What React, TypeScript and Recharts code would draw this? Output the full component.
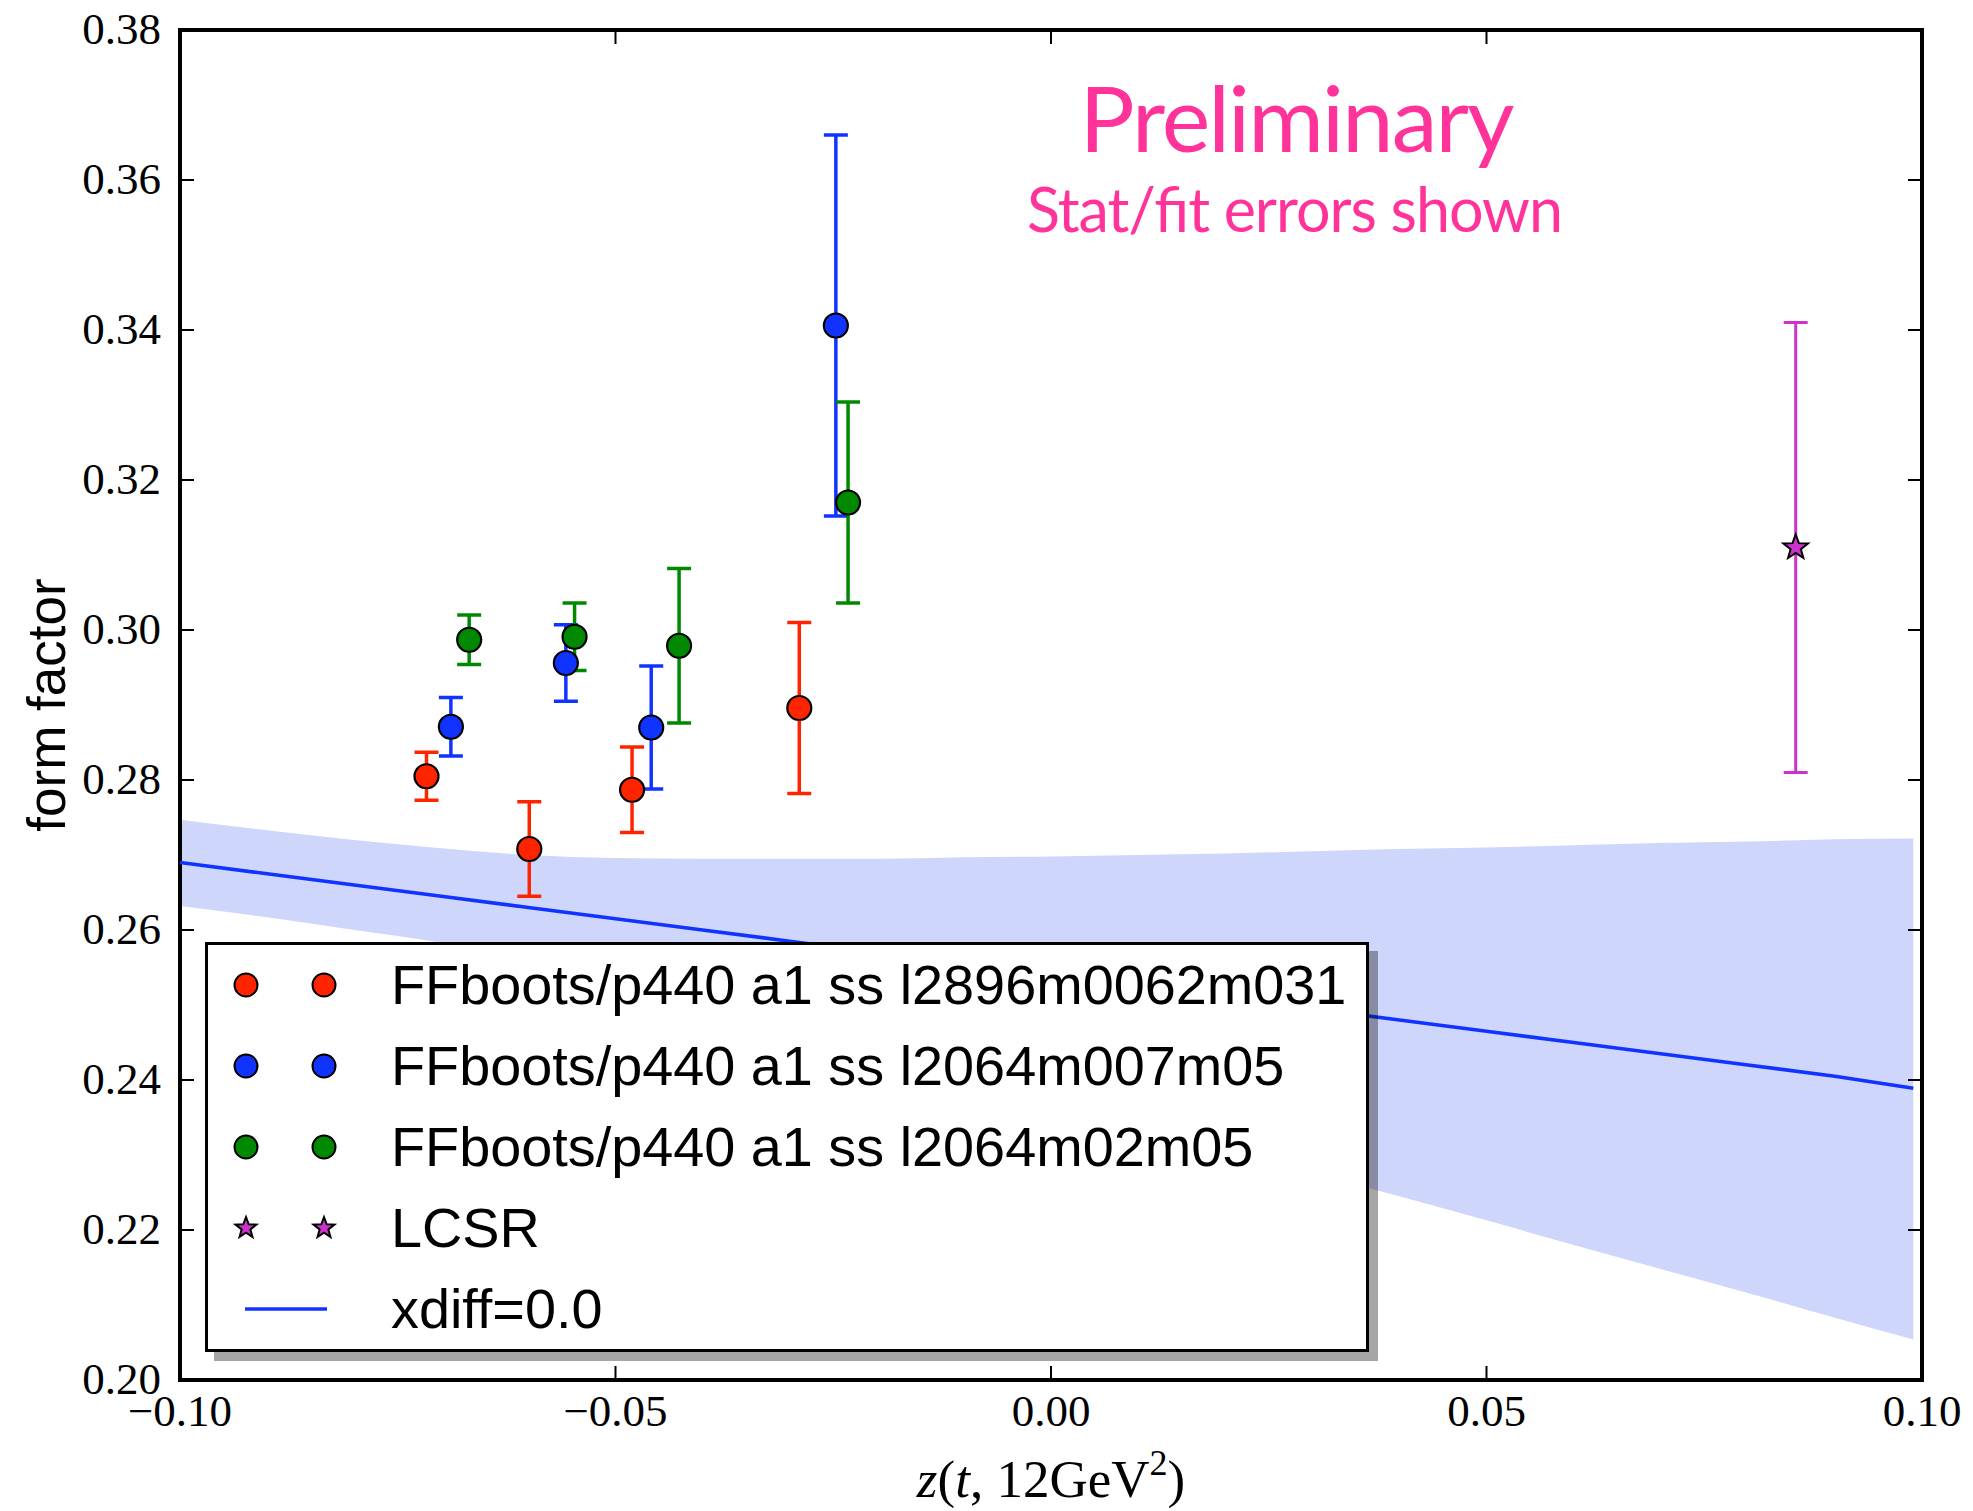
import React from 'react';
import {
  ComposedChart,
  XAxis,
  YAxis,
  Scatter,
  ErrorBar,
  Area,
  Line,
  Legend,
  ReferenceArea,
} from 'recharts';

const CHART_W = 1973;
const CHART_H = 1511;

// ---- lattice ensembles: z value, form factor, symmetric error ----
const l2896X = [-0.0717, -0.0599, -0.0481, -0.0289];
const l2896Y = [0.2805, 0.2708, 0.2787, 0.2896];
const l2896Err = [0.0032, 0.0063, 0.0057, 0.0114];

const l2064m007X = [-0.0689, -0.0557, -0.0459, -0.0247];
const l2064m007Y = [0.2871, 0.2956, 0.287, 0.3406];
const l2064m007Err = [0.0039, 0.0051, 0.0082, 0.0254];

const l2064m02X = [-0.0668, -0.0547, -0.0427, -0.0233];
const l2064m02Y = [0.2987, 0.2991, 0.2979, 0.317];
const l2064m02Err = [0.0033, 0.0045, 0.0103, 0.0134];

// light-cone sum rule estimate
const lcsrX = [0.0855];
const lcsrY = [0.311];
const lcsrErr = [0.03];

// ---- z-expansion fit (xdiff=0.0) with its error band ----
const fitX = [
  -0.1, -0.09, -0.08, -0.07, -0.06, -0.05, -0.04, -0.03, -0.02, -0.01, 0,
  0.01, 0.02, 0.03, 0.04, 0.05, 0.06, 0.07, 0.08, 0.09, 0.099,
];
const fitCentral = [
  0.269, 0.2675, 0.266, 0.2645, 0.263, 0.2615, 0.26, 0.2585, 0.257, 0.2555,
  0.254, 0.2525, 0.251, 0.2495, 0.248, 0.2465, 0.245, 0.2435, 0.242, 0.2405,
  0.2389,
];
const fitUpper = [
  0.2747, 0.2733, 0.272, 0.2709, 0.27, 0.2696, 0.2695, 0.2695, 0.2695,
  0.2697, 0.2698, 0.27, 0.2702, 0.2705, 0.2708, 0.271, 0.2713, 0.2716,
  0.2718, 0.2721, 0.2722,
];
const fitLower = [
  0.2632, 0.2617, 0.26, 0.2583, 0.256, 0.2535, 0.2505, 0.2475, 0.2445,
  0.2413, 0.2382, 0.235, 0.2318, 0.2277, 0.2245, 0.2213, 0.218, 0.2148,
  0.2116, 0.2083, 0.2054,
];

// ---- axis ticks ----
const xTicks = [-0.1, -0.05, 0, 0.05, 0.1];
const xTickLabels = ['\u22120.10', '\u22120.05', '0.00', '0.05', '0.10'];
const yTicks = [0.2, 0.22, 0.24, 0.26, 0.28, 0.3, 0.32, 0.34, 0.36, 0.38];
const yTickLabels = ['0.20', '0.22', '0.24', '0.26', '0.28', '0.30', '0.32', '0.34', '0.36', '0.38'];

const RED = '#FF2400';
const BLUE = '#1133FF';
const GREEN = '#008800';
const MAGENTA = '#CC33CC';
const BAND = '#CFD6FB';
const PINK = '#FF3399';

const SERIF = '"Liberation Serif", "Times New Roman", serif';
const SANS = '"Liberation Sans", Arial, Helvetica, sans-serif';

const toPoints = (xs: number[], ys: number[], es: number[]) =>
  xs.map((x, i) => ({ x, y: ys[i], err: es[i] }));

const red = toPoints(l2896X, l2896Y, l2896Err);
const blue = toPoints(l2064m007X, l2064m007Y, l2064m007Err);
const green = toPoints(l2064m02X, l2064m02Y, l2064m02Err);
const lcsr = toPoints(lcsrX, lcsrY, lcsrErr);

const fitData = fitX.map((x, i) => ({
  x,
  fit: fitCentral[i],
  band: [fitLower[i], fitUpper[i]],
}));

const legendEntries = [
  { kind: 'circle', color: RED, name: 'FFboots/p440 a1 ss l2896m0062m031' },
  { kind: 'circle', color: BLUE, name: 'FFboots/p440 a1 ss l2064m007m05' },
  { kind: 'circle', color: GREEN, name: 'FFboots/p440 a1 ss l2064m02m05' },
  { kind: 'star', color: MAGENTA, name: 'LCSR' },
  { kind: 'line', color: BLUE, name: 'xdiff=0.0' },
];

const TICK_LEN = 14;
const TICK_W = 2;
const BAR_W = 3.5;

function starPoints(cx: number, cy: number, outer: number, inner: number) {
  const pts: string[] = [];
  for (let k = 0; k < 10; k++) {
    const r = k % 2 === 0 ? outer : inner;
    const a = -Math.PI / 2 + (k * Math.PI) / 5;
    pts.push(`${cx + r * Math.cos(a)},${cy + r * Math.sin(a)}`);
  }
  return pts.join(' ');
}

const circleShape = (color: string, r: number) => (p: any) => (
  <circle cx={p.cx} cy={p.cy} r={r} fill={color} stroke="#000" strokeWidth={2.2} />
);

const starShape = (p: any) => (
  <polygon
    points={starPoints(p.cx, p.cy, 13, 5.4)}
    fill={MAGENTA}
    stroke="#000"
    strokeWidth={2}
    strokeLinejoin="miter"
  />
);

// ticks point into the plot on every side
const BottomTick = (p: any) => (
  <g>
    <line x1={p.x} y1={p.y} x2={p.x} y2={p.y - TICK_LEN} stroke="#000" strokeWidth={TICK_W} />
    <text x={p.x} y={p.y + 46} textAnchor="middle" fontFamily={SERIF} fontSize={45} fill="#000">
      {xTickLabels[p.index]}
    </text>
  </g>
);
const TopTick = (p: any) => (
  <line x1={p.x} y1={p.y} x2={p.x} y2={p.y + TICK_LEN} stroke="#000" strokeWidth={TICK_W} />
);
const LeftTick = (p: any) => (
  <g>
    <line x1={p.x} y1={p.y} x2={p.x + TICK_LEN} y2={p.y} stroke="#000" strokeWidth={TICK_W} />
    <text x={p.x - 19} y={p.y + 14} textAnchor="end" fontFamily={SERIF} fontSize={45} fill="#000">
      {yTickLabels[p.index]}
    </text>
  </g>
);
const RightTick = (p: any) => (
  <line x1={p.x} y1={p.y} x2={p.x - TICK_LEN} y2={p.y} stroke="#000" strokeWidth={TICK_W} />
);

const XAxisTitle = (p: any) => {
  const vb = p.viewBox;
  const cx = vb.x + vb.width / 2;
  const base = vb.y + 117;
  return (
    <text x={cx} y={base} textAnchor="middle" fontFamily={SERIF} fontSize={53} fill="#000">
      <tspan fontStyle="italic">z</tspan>
      <tspan>(</tspan>
      <tspan fontStyle="italic">t</tspan>
      <tspan>, 12GeV</tspan>
      <tspan dy={-22} fontSize={36}>2</tspan>
      <tspan dy={22}>)</tspan>
    </text>
  );
};

const YAxisTitle = (p: any) => {
  const vb = p.viewBox;
  const cy = vb.y + vb.height / 2;
  const bx = vb.x + 65;
  return (
    <text
      x={bx}
      y={cy}
      transform={`rotate(-90 ${bx} ${cy})`}
      textAnchor="middle"
      fontFamily={SANS}
      fontSize={53}
      fill="#000"
    >
      form factor
    </text>
  );
};

const LegendBox = () => {
  const rowY = [43, 124, 205, 286, 367];
  const m1 = 41;
  const m2 = 119;
  return (
    <div
      style={{
        width: 1164,
        height: 410,
        boxSizing: 'border-box',
        border: '3px solid #000',
        background: '#fff',
        boxShadow: '9px 9px 0 rgba(0,0,0,0.35)',
        position: 'relative',
      }}
    >
      <svg width={1164} height={410} style={{ position: 'absolute', left: -3, top: -3 }}>
        {legendEntries.map((e, i) => {
          const cy = rowY[i];
          let marks: React.ReactNode;
          if (e.kind === 'circle') {
            marks = (
              <>
                <circle cx={m1} cy={cy} r={11.5} fill={e.color} stroke="#000" strokeWidth={2} />
                <circle cx={m2} cy={cy} r={11.5} fill={e.color} stroke="#000" strokeWidth={2} />
              </>
            );
          } else if (e.kind === 'star') {
            marks = (
              <>
                <polygon points={starPoints(m1, cy, 11, 4.6)} fill={e.color} stroke="#000" strokeWidth={2} />
                <polygon points={starPoints(m2, cy, 11, 4.6)} fill={e.color} stroke="#000" strokeWidth={2} />
              </>
            );
          } else {
            marks = <line x1={m1 - 1} y1={cy} x2={m2 + 3} y2={cy} stroke={e.color} strokeWidth={3.5} />;
          }
          return (
            <g key={e.name}>
              {marks}
              <text x={186} y={cy + 19} fontFamily={SANS} fontSize={55.8} fill="#000">
                {e.name}
              </text>
            </g>
          );
        })}
      </svg>
    </div>
  );
};

export default function App() {
  return (
    <div style={{ position: 'absolute', left: 0, top: 0, width: CHART_W, height: CHART_H, background: '#fff' }}>
      <ComposedChart
        width={CHART_W}
        height={CHART_H}
        margin={{ top: 0, right: 0, bottom: 0, left: 0 }}
        style={{ background: '#fff' }}
      >
        <XAxis
          xAxisId="bottom"
          orientation="bottom"
          type="number"
          dataKey="x"
          domain={[-0.1, 0.1]}
          allowDataOverflow
          ticks={xTicks}
          height={131}
          axisLine={false}
          tickLine={false}
          tickSize={0}
          tickMargin={0}
          interval={0}
          tick={<BottomTick />}
          label={{ content: XAxisTitle }}
        />
        <XAxis
          xAxisId="top"
          orientation="top"
          type="number"
          dataKey="x"
          domain={[-0.1, 0.1]}
          allowDataOverflow
          ticks={xTicks}
          height={30}
          axisLine={false}
          tickLine={false}
          tickSize={0}
          tickMargin={0}
          interval={0}
          tick={<TopTick />}
        />
        <YAxis
          yAxisId="left"
          orientation="left"
          type="number"
          domain={[0.2, 0.38]}
          allowDataOverflow
          ticks={yTicks}
          width={180}
          axisLine={false}
          tickLine={false}
          tickSize={0}
          tickMargin={0}
          interval={0}
          tick={<LeftTick />}
          label={{ content: YAxisTitle }}
        />
        <YAxis
          yAxisId="right"
          orientation="right"
          type="number"
          domain={[0.2, 0.38]}
          allowDataOverflow
          ticks={yTicks}
          width={51}
          axisLine={false}
          tickLine={false}
          tickSize={0}
          tickMargin={0}
          interval={0}
          tick={<RightTick />}
        />

        <Area
          xAxisId="bottom"
          yAxisId="left"
          data={fitData}
          dataKey="band"
          type="monotone"
          fill={BAND}
          fillOpacity={1}
          stroke="none"
          isAnimationActive={false}
          legendType="none"
        />
        <Line
          xAxisId="bottom"
          yAxisId="left"
          data={fitData}
          dataKey="fit"
          type="linear"
          stroke={BLUE}
          strokeWidth={3.6}
          dot={false}
          isAnimationActive={false}
          name="xdiff=0.0"
        />

        <Scatter
          xAxisId="bottom"
          yAxisId="left"
          data={red}
          dataKey="y"
          shape={circleShape(RED, 12)}
          isAnimationActive={false}
          name="FFboots/p440 a1 ss l2896m0062m031"
        >
          <ErrorBar dataKey="err" direction="y" width={12} stroke={RED} strokeWidth={BAR_W} />
        </Scatter>
        <Scatter
          xAxisId="bottom"
          yAxisId="left"
          data={blue}
          dataKey="y"
          shape={circleShape(BLUE, 12)}
          isAnimationActive={false}
          name="FFboots/p440 a1 ss l2064m007m05"
        >
          <ErrorBar dataKey="err" direction="y" width={12} stroke={BLUE} strokeWidth={BAR_W} />
        </Scatter>
        <Scatter
          xAxisId="bottom"
          yAxisId="left"
          data={green}
          dataKey="y"
          shape={circleShape(GREEN, 12)}
          isAnimationActive={false}
          name="FFboots/p440 a1 ss l2064m02m05"
        >
          <ErrorBar dataKey="err" direction="y" width={12} stroke={GREEN} strokeWidth={BAR_W} />
        </Scatter>
        <Scatter
          xAxisId="bottom"
          yAxisId="left"
          data={lcsr}
          dataKey="y"
          shape={starShape}
          isAnimationActive={false}
          name="LCSR"
        >
          <ErrorBar dataKey="err" direction="y" width={12} stroke={MAGENTA} strokeWidth={3} />
        </Scatter>

        <ReferenceArea
          xAxisId="bottom"
          yAxisId="left"
          x1={-0.1}
          x2={0.1}
          y1={0.2}
          y2={0.38}
          fill="none"
          fillOpacity={0}
          stroke="#000"
          strokeWidth={4}
          ifOverflow="visible"
        />

        <Legend
          layout="vertical"
          align="center"
          verticalAlign="middle"
          wrapperStyle={{ left: 205, top: 942, width: 1164, height: 410 }}
          content={() => <LegendBox />}
        />
      </ComposedChart>

      <svg
        width={CHART_W}
        height={CHART_H}
        style={{ position: 'absolute', left: 0, top: 0, pointerEvents: 'none' }}
      >
        <text x={1297} y={152} textAnchor="middle" fontFamily="Lato, 'Open Sans', sans-serif" fontSize={92} fill={PINK} textLength={435}>
          Preliminary
        </text>
        <text x={1295} y={232} textAnchor="middle" fontFamily="Lato, 'Open Sans', sans-serif" fontSize={61} fill={PINK} textLength={536}>
          Stat/fit errors shown
        </text>
      </svg>
    </div>
  );
}
